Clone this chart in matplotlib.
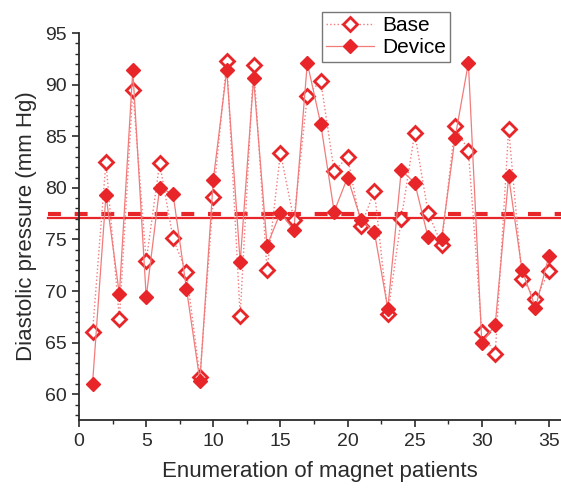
import matplotlib
matplotlib.use("Agg")
import matplotlib.pyplot as plt
from matplotlib.ticker import MultipleLocator

plt.rcParams["font.family"] = ["Liberation Sans", "DejaVu Sans"]

# Diastolic pressure per patient
patients = list(range(1, 36))
base = [66.0, 82.5, 67.3, 89.5, 72.9, 82.4, 75.1, 71.8, 61.7, 79.1,
        92.3, 67.6, 91.9, 72.0, 83.4, 76.9, 88.9, 90.4, 81.6, 83.0,
        76.3, 79.7, 67.8, 77.0, 85.3, 77.6, 74.5, 86.0, 83.6, 66.0,
        63.9, 85.7, 71.2, 69.2, 71.9]
device = [61.0, 79.3, 69.7, 91.4, 69.4, 80.0, 79.4, 70.2, 61.3, 80.8,
          91.4, 72.8, 90.6, 74.4, 77.6, 75.9, 92.1, 86.2, 77.7, 81.0,
          76.9, 75.7, 68.3, 81.7, 80.5, 75.2, 75.0, 84.8, 92.1, 65.0,
          66.7, 81.1, 72.0, 68.4, 73.4]

RED = "#e8262a"
LINE = "#f27b7b"
DARK = "#2b2b2b"

fig = plt.figure(figsize=(5.61, 4.93), dpi=100)
ax = fig.add_axes([0.141, 0.148, 0.859, 0.785])

ax.plot(patients, base, linestyle=":", color=LINE, lw=1.0,
        marker="D", ms=7.5, mfc="white", mec=RED, mew=2.0, label="Base")
ax.plot(patients, device, linestyle="-", color=LINE, lw=0.9,
        marker="D", ms=7.5, mfc=RED, mec=RED, label="Device")

# mean lines, extending a little left of the y axis like the original
base_mean = sum(base) / len(base)
device_mean = sum(device) / len(device)
ax.plot([-2.3, 36.5], [base_mean, base_mean], color=RED, lw=3.0,
        linestyle=(0, (3.1, 3.3)), clip_on=False, zorder=1)
ax.plot([-2.3, 36.5], [device_mean, device_mean], color=RED, lw=1.6,
        clip_on=False, zorder=1)

ax.set_xlim(0, 35.9)
ax.set_ylim(57.5, 95)
ax.xaxis.set_major_locator(MultipleLocator(5))
ax.xaxis.set_minor_locator(MultipleLocator(2.5))
ax.yaxis.set_major_locator(MultipleLocator(5))
ax.yaxis.set_minor_locator(MultipleLocator(1))
ax.tick_params(which="both", direction="out", labelsize=14, color=DARK,
               labelcolor=DARK)
ax.tick_params(which="major", length=5, width=1.2, pad=4)
ax.tick_params(which="minor", length=3, width=1.0)
for s in ("top", "right"):
    ax.spines[s].set_visible(False)
for s in ("left", "bottom"):
    ax.spines[s].set_linewidth(1.3)
    ax.spines[s].set_color(DARK)

ax.set_xlabel("Enumeration of magnet patients", fontsize=16, color=DARK,
              labelpad=8)
ax.set_ylabel("Diastolic pressure (mm Hg)", fontsize=16, color=DARK,
              labelpad=6)

leg = ax.legend(loc="upper left", bbox_to_anchor=(0.504, 1.054), fontsize=15,
                frameon=True, fancybox=False, handlelength=2.3,
                borderpad=0.2, labelspacing=0.15, handletextpad=0.4,
                borderaxespad=0)
leg.get_frame().set_edgecolor("#555555")
leg.get_frame().set_linewidth(1.0)

fig.savefig("out.png", dpi=100)
